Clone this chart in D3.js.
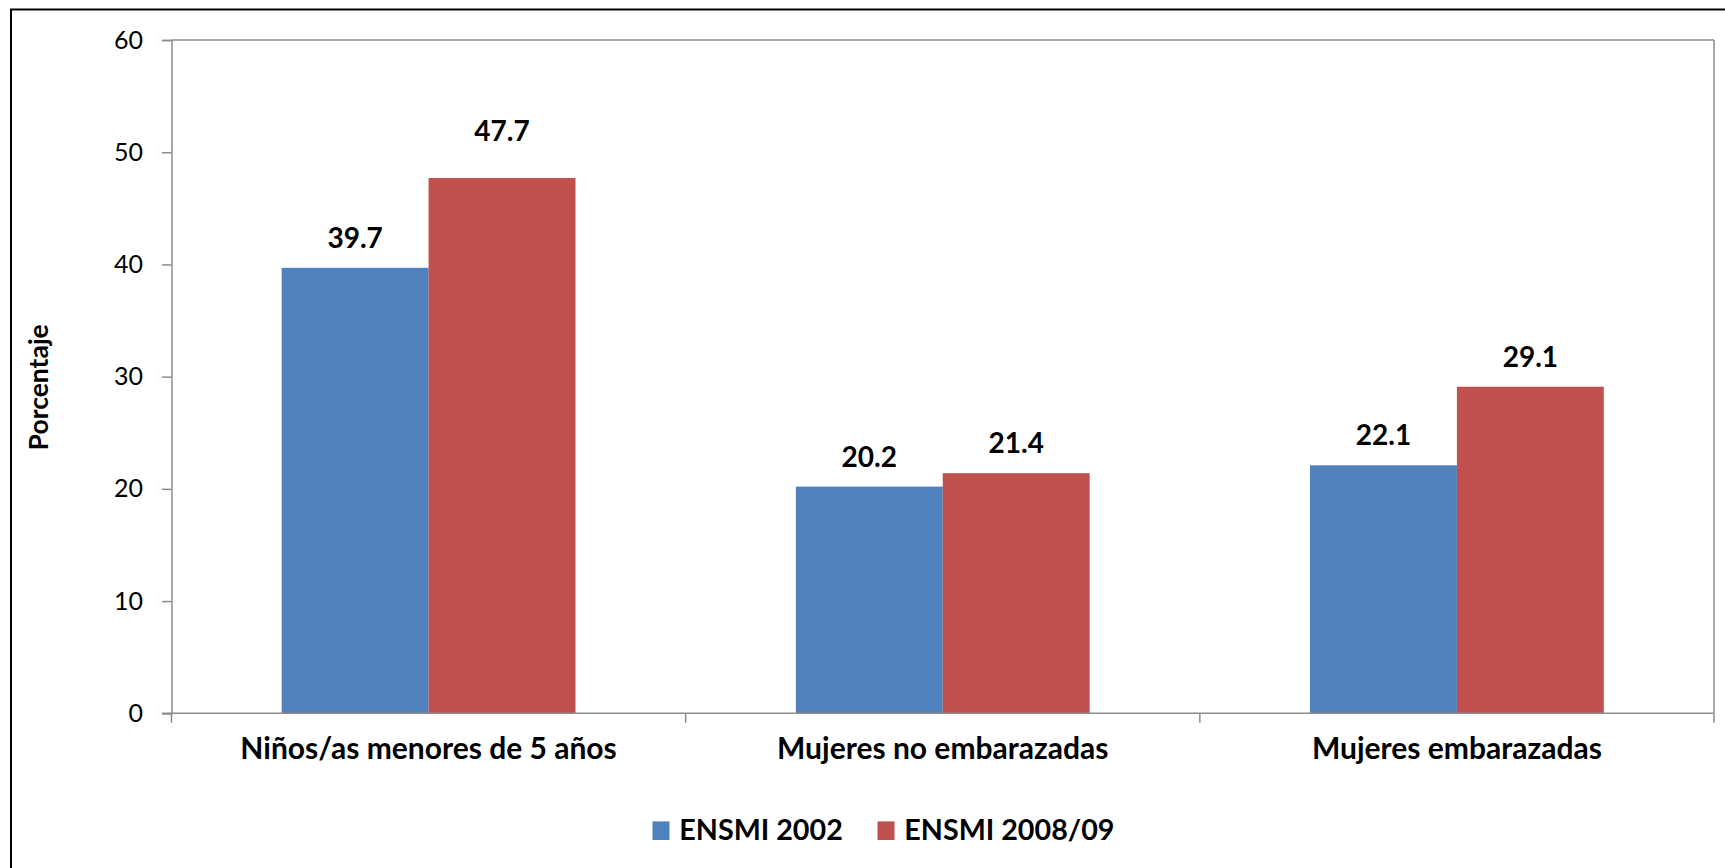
<!DOCTYPE html>
<html>
<head>
<meta charset="utf-8">
<script src="https://cdnjs.cloudflare.com/ajax/libs/d3/7.8.5/d3.min.js"></script>
<style>
  html, body { margin: 0; padding: 0; background: #fff; }
  svg { display: block; font-family: Lato, "Open Sans", sans-serif; }
</style>
</head>
<body>
<div id="chart"></div>
<script>
var categories = ['Niños/as menores de 5 años', 'Mujeres no embarazadas', 'Mujeres embarazadas'];
var seriesNames = ['ENSMI 2002', 'ENSMI 2008/09'];
var ensmi2002 = [39.7, 20.2, 22.1];
var ensmi2008 = [47.7, 21.4, 29.1];
var yTicks = [0, 10, 20, 30, 40, 50, 60];

var width = 1725, height = 868;
var colors = ['#4F81BD', '#C0504D'];
var axisColor = '#8c8c8c';

// label lift above the bar top (the 47.7 label sits higher in the original)
var labelLift = [[20, 20, 20], [37, 20, 20]];

var svg = d3.select('#chart').append('svg')
    .attr('width', width)
    .attr('height', height);

// outer frame, right and bottom edges fall off the picture
svg.append('rect')
    .attr('x', 11).attr('y', 9.5)
    .attr('width', 1800).attr('height', 1000)
    .attr('fill', 'none')
    .attr('stroke', '#000')
    .attr('stroke-width', 2);

var plot = {left: 171.5, right: 1714, top: 40, bottom: 713.3};

var x = d3.scaleBand().domain(categories).range([plot.left, plot.right]).padding(0);
var x1 = d3.scaleBand().domain(seriesNames).range([0, x.bandwidth()]).paddingInner(0).paddingOuter(0.75);
var y = d3.scaleLinear().domain([0, 60]).range([plot.bottom, plot.top]);

var rows = [];
categories.forEach(function(c, i) {
  rows.push({cat: c, s: 0, value: ensmi2002[i], i: i});
  rows.push({cat: c, s: 1, value: ensmi2008[i], i: i});
});

// bars
svg.append('g').selectAll('rect')
    .data(rows)
    .enter().append('rect')
      .attr('x', function(d) { return x(d.cat) + x1(seriesNames[d.s]); })
      .attr('y', function(d) { return y(d.value); })
      .attr('width', x1.bandwidth())
      .attr('height', function(d) { return y(0) - y(d.value); })
      .attr('fill', function(d) { return colors[d.s]; });

// plot frame: top and right gray lines
svg.append('line')
    .attr('x1', plot.left).attr('x2', plot.right)
    .attr('y1', plot.top).attr('y2', plot.top)
    .attr('stroke', axisColor).attr('stroke-width', 1.5);
svg.append('line')
    .attr('x1', plot.right).attr('x2', plot.right)
    .attr('y1', plot.top).attr('y2', plot.bottom)
    .attr('stroke', axisColor).attr('stroke-width', 1.5);

// y axis
var yAxis = svg.append('g')
    .attr('transform', 'translate(' + plot.left + ',0)')
    .call(d3.axisLeft(y).tickValues(yTicks).tickSize(9.5).tickPadding(19).tickFormat(d3.format('d')));
yAxis.select('.domain').attr('stroke', axisColor).attr('stroke-width', 1.5);
yAxis.selectAll('.tick line').attr('stroke', axisColor).attr('stroke-width', 1.5);
yAxis.selectAll('.tick text')
    .attr('fill', '#000')
    .style('font-size', '25px')
    .style('font-family', 'Lato, sans-serif');

// x axis, ticks at category boundaries
var boundaries = categories.map(function(c) { return x(c); }).concat([plot.right]);
var xAxis = svg.append('g');
xAxis.append('line')
    .attr('x1', plot.left - 9.5).attr('x2', plot.right)
    .attr('y1', plot.bottom).attr('y2', plot.bottom)
    .attr('stroke', axisColor).attr('stroke-width', 1.5);
xAxis.selectAll('.xt')
    .data(boundaries)
    .enter().append('line')
      .attr('class', 'xt')
      .attr('x1', function(d) { return d; }).attr('x2', function(d) { return d; })
      .attr('y1', plot.bottom).attr('y2', plot.bottom + 9.5)
      .attr('stroke', axisColor).attr('stroke-width', 1.5);
xAxis.selectAll('.xl')
    .data(categories)
    .enter().append('text')
      .attr('class', 'xl')
      .attr('x', function(d) { return x(d) + x.bandwidth() / 2; })
      .attr('y', 759.3)
      .attr('text-anchor', 'middle')
      .style('font-size', '30px')
      .style('font-weight', 'bold')
      .text(function(d) { return d; });

// value labels
svg.append('g').selectAll('text')
    .data(rows)
    .enter().append('text')
      .attr('x', function(d) { return x(d.cat) + x1(seriesNames[d.s]) + x1.bandwidth() / 2; })
      .attr('y', function(d) { return y(d.value) - labelLift[d.s][d.i]; })
      .attr('text-anchor', 'middle')
      .style('font-size', '28px')
      .style('font-weight', 'bold')
      .text(function(d) { return d3.format('.1f')(d.value); });

// y title
svg.append('text')
    .attr('transform', 'translate(48.3,387.3) rotate(-90)')
    .attr('text-anchor', 'middle')
    .style('font-size', '26.5px')
    .style('font-weight', 'bold')
    .text('Porcentaje');

// legend
var legendX = [652.5, 877.5];
var legend = svg.append('g').selectAll('g')
    .data(seriesNames)
    .enter().append('g')
      .attr('transform', function(d, i) { return 'translate(' + legendX[i] + ',840)'; });
legend.append('rect')
    .attr('x', 0).attr('y', -18.6)
    .attr('width', 17).attr('height', 18.6)
    .attr('fill', function(d, i) { return colors[i]; });
legend.append('text')
    .attr('x', 26.8)
    .attr('y', 0)
    .style('font-size', '28.7px')
    .style('font-weight', 'bold')
    .text(function(d) { return d; });
</script>
</body>
</html>
